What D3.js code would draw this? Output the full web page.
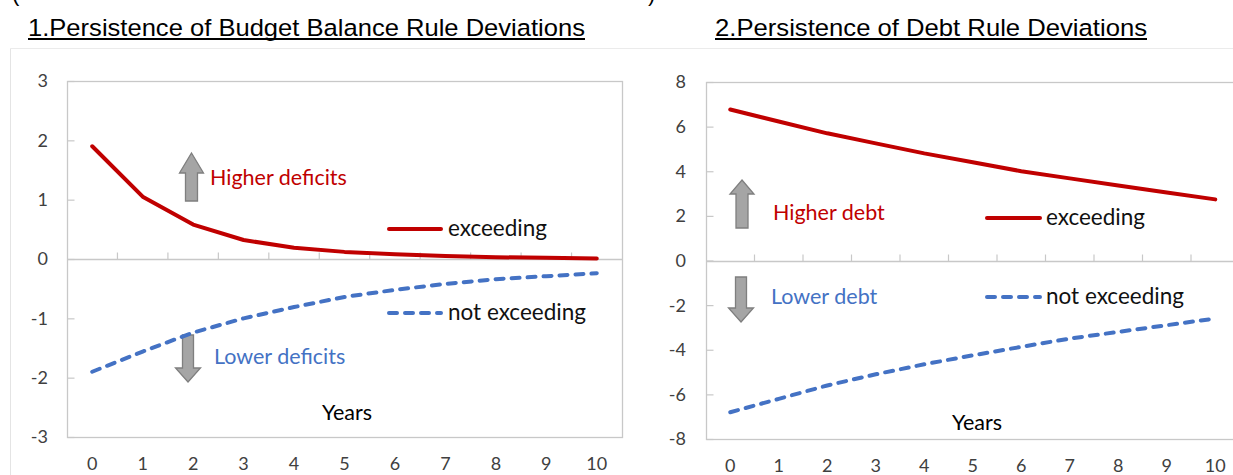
<!DOCTYPE html>
<html>
<head>
<meta charset="utf-8">
<script src="https://cdn.jsdelivr.net/npm/d3@7"></script>
<style>
  html, body { margin: 0; padding: 0; background: #ffffff; }
  svg { display: block; }
</style>
</head>
<body>
<script>
// ---------------- DATA ----------------
const years = [0, 1, 2, 3, 4, 5, 6, 7, 8, 9, 10];

// Panel 1: Budget balance rule deviations
const bbExceeding    = [1.90, 1.05, 0.58, 0.32, 0.19, 0.12, 0.08, 0.05, 0.03, 0.02, 0.01];
const bbNotExceeding = [-1.90, -1.56, -1.24, -1.00, -0.81, -0.64, -0.52, -0.42, -0.34, -0.29, -0.24];
const bbTicks = [-3, -2, -1, 0, 1, 2, 3];

// Panel 2: Debt rule deviations
const debtExceeding    = [6.77, 6.23, 5.70, 5.25, 4.80, 4.40, 4.00, 3.68, 3.36, 3.05, 2.74];
const debtNotExceeding = [-6.80, -6.20, -5.60, -5.10, -4.65, -4.25, -3.87, -3.50, -3.20, -2.90, -2.60];
const debtTicks = [-8, -6, -4, -2, 0, 2, 4, 6, 8];

const seriesNames = ["exceeding", "not exceeding"];
const titles = ["1.Persistence of Budget Balance Rule Deviations", "2.Persistence of Debt Rule Deviations"];
const annotations1 = ["Higher deficits", "Lower deficits"];
const annotations2 = ["Higher debt", "Lower debt"];
const xAxisTitle = "Years";

// ---------------- STYLE ----------------
const RED = "#C00000", BLUE = "#4472C4";
const FONT = "Lato, 'Open Sans', sans-serif";
const W = 1233, H = 475;

const svg = d3.select("body").append("svg").attr("width", W).attr("height", H);

// cut-off text line at the very top (only the lower tips of the brackets show)
svg.append("text").attr("x", 12).attr("y", 1).attr("font-family", "Liberation Sans, Arial").attr("font-size", 22).attr("fill", "#000").text("(");
svg.append("text").attr("x", 648).attr("y", 1).attr("font-family", "Liberation Sans, Arial").attr("font-size", 22).attr("fill", "#000").text(")");

// outer faint frame
svg.append("line").attr("x1", 10.5).attr("x2", W).attr("y1", 48.5).attr("y2", 48.5).attr("stroke", "#ebebeb");
svg.append("line").attr("x1", 10.5).attr("x2", 10.5).attr("y1", 48.5).attr("y2", H).attr("stroke", "#e4e4e4");

function title(text, x, len) {
  svg.append("text").attr("x", x).attr("y", 36)
    .attr("font-family", "'Liberation Sans', Arial, sans-serif")
    .attr("font-size", 24.5).attr("fill", "#000")
    .attr("textLength", len).attr("lengthAdjust", "spacingAndGlyphs")
    .text(text);
  svg.append("line").attr("x1", x).attr("x2", x + len).attr("y1", 39).attr("y2", 39)
    .attr("stroke", "#000").attr("stroke-width", 2.2);
}
title(titles[0], 28, 557);
title(titles[1], 715, 432);

function panel(p) {
  const g = svg.append("g");
  const x = d3.scalePoint().domain(years).range([p.left, p.right]).padding(0.5);
  const y = d3.scaleLinear().domain([p.ticks[0], p.ticks[p.ticks.length - 1]]).range([p.bottom, p.top]);
  const step = x.step();

  // plot frame
  g.append("rect").attr("x", p.left + 0.5).attr("y", p.top + 0.5)
    .attr("width", p.right - p.left).attr("height", p.bottom - p.top)
    .attr("fill", "none").attr("stroke", "#c8c8c8").attr("stroke-width", 1.3);

  // y axis (inner ticks) with labels
  const yAxis = d3.axisRight(y).tickValues(p.ticks).tickSize(7).tickFormat("");
  const ya = g.append("g").attr("transform", `translate(${p.left + 0.5},0)`).call(yAxis);
  ya.select(".domain").remove();
  ya.selectAll("line").attr("stroke", "#c8c8c8").attr("stroke-width", 1.2);
  g.selectAll(".ylab").data(p.ticks).join("text")
    .attr("x", p.labelX).attr("y", d => y(d)).attr("dy", "0.36em")
    .attr("text-anchor", "end").attr("font-family", FONT).attr("font-size", 18)
    .attr("fill", "#404040").text(d => d);

  // zero line with category boundary ticks
  const y0 = Math.round(y(0)) + 0.5;
  g.append("line").attr("x1", p.left).attr("x2", p.right).attr("y1", y0).attr("y2", y0)
    .attr("stroke", "#c8c8c8").attr("stroke-width", 1.3);
  const bounds = years.slice(1).map(v => x(v) - step / 2);
  g.selectAll(".xt").data(bounds).join("line")
    .attr("x1", d => d).attr("x2", d => d).attr("y1", y0).attr("y2", y0 - 7)
    .attr("stroke", "#c8c8c8").attr("stroke-width", 1.2);

  // x labels
  g.selectAll(".xlab").data(years).join("text")
    .attr("x", d => x(d)).attr("y", p.xLabelY).attr("text-anchor", "middle")
    .attr("font-family", FONT).attr("font-size", 18).attr("fill", "#404040").text(d => d);

  // x axis title
  g.append("text").attr("x", p.yearsX).attr("y", p.yearsY).attr("text-anchor", "middle")
    .attr("font-family", FONT).attr("font-size", 21.5).attr("fill", "#000").text(xAxisTitle);

  // arrows (annotations)
  function upArrow(cx, top, headBase, bottom, sh, hh) {
    g.append("path").attr("d",
      `M${cx},${top} L${cx + hh},${headBase} L${cx + sh},${headBase} L${cx + sh},${bottom} L${cx - sh},${bottom} L${cx - sh},${headBase} L${cx - hh},${headBase} Z`)
      .attr("fill", "#a5a5a5").attr("stroke", "#7f7f7f").attr("stroke-width", 1.3);
  }
  function downArrow(cx, top, headBase, tip, sh, hh) {
    g.append("path").attr("d",
      `M${cx},${tip} L${cx + hh},${headBase} L${cx + sh},${headBase} L${cx + sh},${top} L${cx - sh},${top} L${cx - sh},${headBase} L${cx - hh},${headBase} Z`)
      .attr("fill", "#a5a5a5").attr("stroke", "#7f7f7f").attr("stroke-width", 1.3);
  }
  const a = p.arrows;
  upArrow(a.up[0], a.up[1], a.up[2], a.up[3], 6, 12);
  downArrow(a.down[0], a.down[1], a.down[2], a.down[3], 5.5, 12.5);
  g.append("text").attr("x", a.upText[0]).attr("y", a.upText[1]).attr("font-family", FONT)
    .attr("font-size", 21.5).attr("fill", RED).text(p.notes[0]);
  g.append("text").attr("x", a.downText[0]).attr("y", a.downText[1]).attr("font-family", FONT)
    .attr("font-size", 21.5).attr("fill", BLUE).text(p.notes[1]);

  // series lines
  const line = d3.line().x((d, i) => x(years[i])).y(d => y(d)).curve(d3.curveLinear);
  g.append("path").datum(p.exceed).attr("d", line).attr("fill", "none")
    .attr("stroke", RED).attr("stroke-width", 4).attr("stroke-linecap", "round").attr("stroke-linejoin", "round");
  g.append("path").datum(p.notExceed).attr("d", line).attr("fill", "none")
    .attr("stroke", BLUE).attr("stroke-width", 4).attr("stroke-dasharray", "8,8")
    .attr("stroke-linecap", "round").attr("stroke-linejoin", "round");

  // legend
  const L = p.legend;
  g.append("line").attr("x1", L.x1).attr("x2", L.x2).attr("y1", L.y[0]).attr("y2", L.y[0])
    .attr("stroke", RED).attr("stroke-width", 4).attr("stroke-linecap", "round");
  g.append("line").attr("x1", L.x1).attr("x2", L.x2).attr("y1", L.y[1]).attr("y2", L.y[1])
    .attr("stroke", BLUE).attr("stroke-width", 4).attr("stroke-dasharray", "8,8").attr("stroke-linecap", "round");
  seriesNames.forEach((n, i) => {
    g.append("text").attr("x", L.tx).attr("y", L.y[i]).attr("dy", "0.33em")
      .attr("font-family", FONT).attr("font-size", 22.5).attr("fill", "#111").text(n);
  });
}

panel({
  left: 67, right: 622, top: 81, bottom: 437, ticks: bbTicks, labelX: 48,
  xLabelY: 470, yearsX: 347, yearsY: 420,
  exceed: bbExceeding, notExceed: bbNotExceeding, notes: annotations1,
  arrows: { up: [191.5, 153, 173, 201], down: [188, 335, 368, 382], upText: [210, 185], downText: [214, 364] },
  legend: { x1: 389, x2: 441, tx: 448, y: [229, 313] }
});

panel({
  left: 706, right: 1239.5, top: 82, bottom: 439, ticks: debtTicks, labelX: 686,
  xLabelY: 472, yearsX: 977, yearsY: 430,
  exceed: debtExceeding, notExceed: debtNotExceeding, notes: annotations2,
  arrows: { up: [742, 180, 194, 228], down: [741, 277, 308, 322], upText: [773, 220], downText: [771, 304] },
  legend: { x1: 987, x2: 1040, tx: 1046, y: [218, 297] }
});
</script>
</body>
</html>
